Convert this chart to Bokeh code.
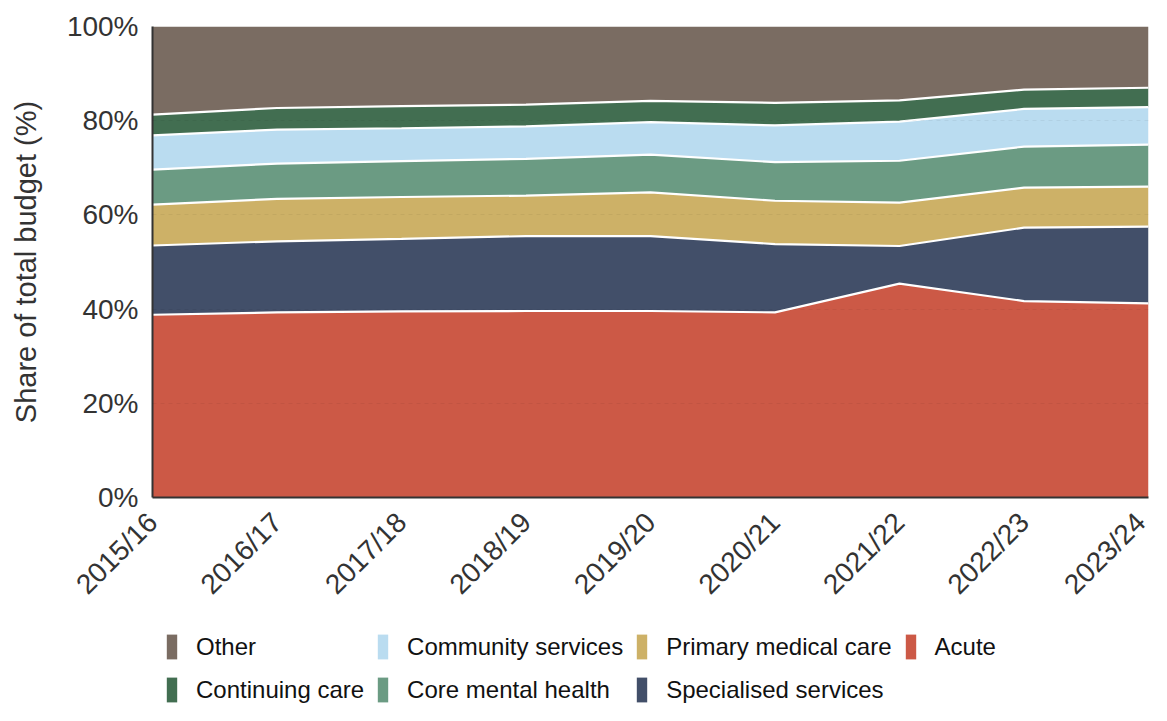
import math
from bokeh.plotting import figure
from bokeh.layouts import column
from bokeh.models import (Range1d, FixedTicker, PrintfTickFormatter, Legend, LegendItem,
                          ColumnDataSource)
from bokeh.transform import stack
from bokeh.embed import file_html
from bokeh.resources import INLINE

years = ["2015/16", "2016/17", "2017/18", "2018/19", "2019/20",
         "2020/21", "2021/22", "2022/23", "2023/24"]
acute = [38.8, 39.3, 39.5, 39.6, 39.6, 39.3, 45.4, 41.7, 41.2]
specialised = [14.7, 15.1, 15.4, 15.9, 15.9, 14.5, 8.0, 15.6, 16.3]
primary = [8.7, 9.0, 8.9, 8.6, 9.3, 9.2, 9.2, 8.5, 8.5]
core_mh = [7.4, 7.5, 7.6, 7.8, 8.0, 8.2, 8.9, 8.7, 8.9]
community = [7.3, 7.2, 7.0, 6.9, 6.9, 7.8, 8.3, 8.0, 8.0]
continuing = [4.4, 4.6, 4.7, 4.6, 4.5, 4.8, 4.5, 4.1, 4.1]
other = [18.7, 17.3, 16.9, 16.6, 15.8, 16.2, 15.7, 13.4, 13.0]

names = ["Acute", "Specialised services", "Primary medical care",
         "Core mental health", "Community services", "Continuing care", "Other"]
series = [acute, specialised, primary, core_mh, community, continuing, other]
colors = ["#cc5946", "#424f69", "#cdb167", "#6b9b83", "#badcf0", "#426e51", "#7a6c62"]

FONT = "Liberation Sans"

data = {"x": list(range(len(years)))}
for n, s in zip(names, series):
    data[n] = s
source = ColumnDataSource(data)

W = 1151
H_MAIN = 620
H_LEG = 85

p = figure(width=W, height=H_MAIN, output_backend="svg", toolbar_location=None,
           x_range=Range1d(0, len(years) - 1), y_range=Range1d(0, 100),
           min_border_left=152, min_border_right=3, min_border_top=26,
           min_border_bottom=H_MAIN - 497)
p.outline_line_color = None

areas = p.varea_stack(stackers=names, x="x", color=colors, source=source)
# white separators between bands
for i in range(1, len(names)):
    p.line(x="x", y=stack(*names[:i]), color="white", line_width=2.2, source=source)

p.xgrid.grid_line_color = None
p.ygrid.ticker = FixedTicker(ticks=[20, 40, 60, 80])
p.ygrid.grid_line_color = "#000000"
p.ygrid.grid_line_alpha = 0.05
p.ygrid.grid_line_dash = "4 4"
p.ygrid.level = "overlay"

p.yaxis.ticker = FixedTicker(ticks=[0, 20, 40, 60, 80, 100])
p.yaxis.formatter = PrintfTickFormatter(format="%d%%")
p.yaxis.axis_label = "Share of total budget (%)"
p.yaxis.axis_label_text_font = FONT
p.yaxis.axis_label_text_font_size = "29px"
p.yaxis.axis_label_text_font_style = "normal"
p.yaxis.axis_label_text_color = "#333333"
p.yaxis.axis_label_standoff = 22

p.xaxis.ticker = FixedTicker(ticks=list(range(len(years))))
p.xaxis.major_label_overrides = {i: y for i, y in enumerate(years)}
p.xaxis.major_label_orientation = math.pi / 4

for ax in (p.xaxis[0], p.yaxis[0]):
    ax.major_label_text_font = FONT
    ax.major_label_text_font_size = "28px"
    ax.major_label_text_color = "#333333"
    ax.major_tick_line_color = None
    ax.minor_tick_line_color = None
    ax.axis_line_color = "#333333"
    ax.axis_line_width = 2
p.yaxis.major_label_standoff = 8
p.xaxis.major_label_standoff = 14

# legend lives in its own small figure below the chart
q = figure(width=W, height=H_LEG, output_backend="svg", toolbar_location=None,
           x_range=Range1d(0, 1), y_range=Range1d(1000, 1001),
           min_border=0, outline_line_color=None)
q.axis.visible = False
q.grid.visible = False
leg_areas = q.varea_stack(stackers=names, x="x", color=colors, source=source)

order = ["Other", "Continuing care", "Community services", "Core mental health",
         "Primary medical care", "Specialised services", "Acute"]
items = [LegendItem(label=n, renderers=[leg_areas[names.index(n)]]) for n in order]
legend = Legend(items=items, orientation="vertical", nrows=2,
                location=(13, 0), margin=0, padding=0, spacing=12,
                glyph_width=13, glyph_height=31, label_height=24,
                label_standoff=18, label_text_font=FONT,
                label_text_font_size="24px", label_text_color="#111111",
                border_line_color=None, background_fill_alpha=0)
q.add_layout(legend, "center")

layout = column(p, q, spacing=0)
open("out.html", "w").write(file_html(layout, INLINE))
